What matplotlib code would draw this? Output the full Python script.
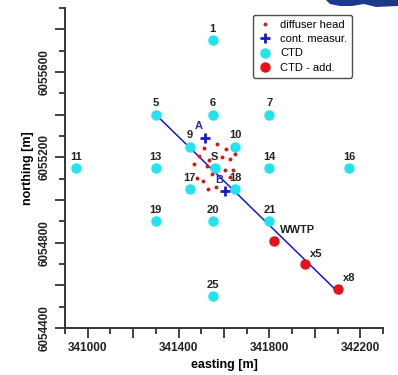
import numpy as np
import matplotlib.pyplot as plt
from matplotlib.patches import Polygon
from matplotlib.ticker import MultipleLocator, FuncFormatter

plt.rcParams['font.family'] = ['Liberation Sans', 'DejaVu Sans']

# CTD stations
ctd_names = ['1', '5', '6', '7', '9', '10', '11', '13', 'S', '14', '16',
             '17', '18', '19', '20', '21', '25']
ctd_e = [341550, 341300, 341550, 341800, 341450, 341650, 340950, 341300, 341560,
         341800, 342150, 341450, 341650, 341300, 341550, 341800, 341550]
ctd_n = [6055750, 6055400, 6055400, 6055400, 6055250, 6055250, 6055150, 6055150, 6055150,
         6055150, 6055150, 6055050, 6055050, 6054900, 6054900, 6054900, 6054550]

# additional CTD stations
add_names = ['WWTP', 'x5', 'x8']
add_e = [341820, 341955, 342100]
add_n = [6054810, 6054700, 6054585]

# continuous measurement
cont_names = ['A', 'B']
cont_e = [341515, 341605]
cont_n = [6055290, 6055040]

# diffuser heads
diff_e = [341571, 341512, 341610, 341647, 341488, 341534, 341590, 341626, 341469,
          341527, 341604, 341641, 341549, 341483, 341509, 341564, 341626, 341530]
diff_n = [6055264, 6055246, 6055241, 6055217, 6055206, 6055187, 6055201, 6055191, 6055170,
          6055159, 6055139, 6055139, 6055123, 6055104, 6055088, 6055062, 6055107, 6055050]

# transect line
line_e = [341300, 342110]
line_n = [6055400, 6054560]

fig = plt.figure(figsize=(3.98, 3.75), dpi=100)
ax = fig.add_axes([65/398, 47/375, 318/398, 320/375])

ax.plot(line_e, line_n, color='#0000ff', lw=1.0, zorder=2)
ax.plot(ctd_e, ctd_n, 'o', color='#22e3ee', ms=7.5, mec='none', zorder=3, label='CTD')
ax.plot(add_e, add_n, 'o', color='#e8101a', ms=7.5, mec='none', zorder=3, label='CTD - add.')
ax.plot(diff_e, diff_n, 'o', color='#cc1a1a', ms=2.8, mec='none', zorder=4, label='diffuser head')
ax.plot(cont_e, cont_n, '+', color='#1a1acc', ms=7, mew=2, zorder=5, label='cont. measur.')

for name, e, n in zip(ctd_names, ctd_e, ctd_n):
    ax.annotate(name, (e, n), xytext=(0, 4.5), textcoords='offset points',
                ha='center', va='bottom', fontsize=8, fontweight='bold', color='#222222', zorder=6)
for name, e, n in zip(add_names, add_e, add_n):
    ax.annotate(name, (e, n), xytext=(4, 7.5), textcoords='offset points',
                ha='left', va='center', fontsize=8, fontweight='bold', color='#222222', zorder=6)
for name, e, n in zip(cont_names, cont_e, cont_n):
    ax.annotate(name, (e, n), xytext=(-4, 8.5), textcoords='offset points',
                ha='center', va='center', fontsize=8, fontweight='bold', color='#2a2ab0', zorder=6)

ax.set_xlim(340900, 342300)
ax.set_ylim(6054400, 6055900)

ax.xaxis.set_major_locator(MultipleLocator(200))
ax.xaxis.set_minor_locator(MultipleLocator(100))
ax.yaxis.set_major_locator(MultipleLocator(200))
ax.yaxis.set_minor_locator(MultipleLocator(100))
ax.xaxis.set_major_formatter(FuncFormatter(lambda v, p: '%d' % v if round(v - 341000) % 400 == 0 else ''))
ax.yaxis.set_major_formatter(FuncFormatter(lambda v, p: '%d' % v if round(v - 6054400) % 400 == 0 else ''))
ax.tick_params(which='major', length=7, width=1.3, color='#333333', labelsize=8.5, pad=3)
ax.tick_params(which='minor', length=4.5, width=1.3, color='#333333')
for lab in ax.get_xticklabels() + ax.get_yticklabels():
    lab.set_fontweight('bold')
    lab.set_color('#222222')
for lab in ax.get_yticklabels():
    lab.set_rotation(90)
    lab.set_va('center')

for s in ['top', 'right']:
    ax.spines[s].set_visible(False)
for s in ['left', 'bottom']:
    ax.spines[s].set_linewidth(1.4)
    ax.spines[s].set_color('#333333')

ax.set_xlabel('easting [m]', fontsize=9, fontweight='bold', labelpad=4)
ax.set_ylabel('northing [m]', fontsize=9, fontweight='bold', labelpad=4)

h, l = ax.get_legend_handles_labels()
order = [2, 3, 0, 1]
leg = ax.legend([h[i] for i in order], [l[i] for i in order], loc='upper left',
                bbox_to_anchor=(0.591, 0.978), borderaxespad=0, fontsize=8, frameon=True,
                fancybox=True, edgecolor='#222222', handlelength=1.2, handletextpad=0.8,
                borderpad=0.45, labelspacing=0.38, markerscale=1.0)
leg.get_frame().set_linewidth(1.0)

# dark blue decoration at top right
blob = Polygon([(326/398, 1), (330/398, 1 - 4/375), (340/398, 1 - 6/375), (352/398, 1 - 6/375),
                (364/398, 1 - 4/375), (376/398, 1 - 7/375), (398/398, 1 - 6/375), (1, 1)],
               closed=True, transform=fig.transFigure, facecolor='#1b3a8c', edgecolor='none')
fig.patches.append(blob)

fig.savefig('out.png', dpi=100)
